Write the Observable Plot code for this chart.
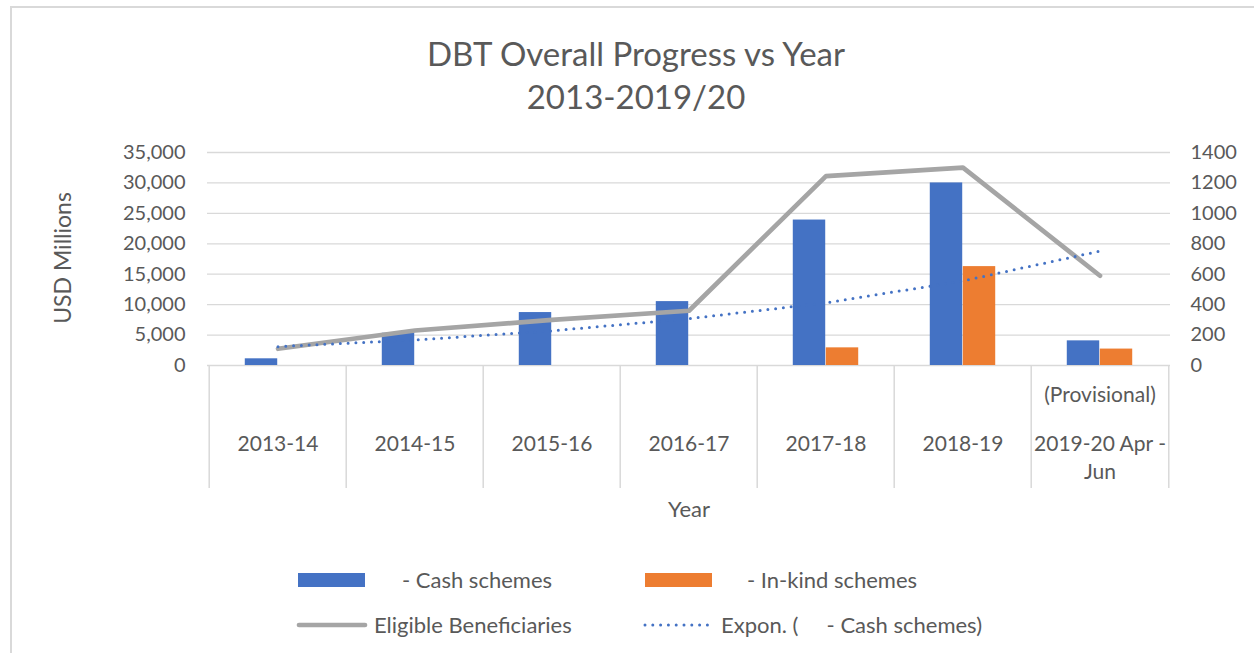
<!DOCTYPE html>
<html>
<head>
<meta charset="utf-8">
<script src="https://cdn.jsdelivr.net/npm/d3@7"></script>
<script src="https://cdn.jsdelivr.net/npm/@observablehq/plot@0.6"></script>
<style>
  html, body { margin: 0; padding: 0; background: #fff; }
  body { width: 1254px; height: 653px; position: relative; overflow: hidden; font-family: Lato, "Open Sans", sans-serif; color: #595959; }
  .abs { position: absolute; white-space: pre; line-height: 1; }
  .c { transform: translate(-50%, -50%); }
  .l { transform: translateY(-50%); }
  #frame { position: absolute; left: 10px; top: 6px; width: 1400px; height: 800px; border: 2px solid #D9D9D9; box-sizing: border-box; }
  #plot1 { position: absolute; left: 0; top: 132px; }
  #plot2 { position: absolute; left: 0; top: 365px; }
  svg { overflow: visible; }
</style>
</head>
<body>
<div id="frame"></div>
<div class="abs c" style="left:636px; top:53px; font-size:33px;">DBT Overall Progress vs Year</div>
<div class="abs c" style="left:636px; top:96px; font-size:33px;">2013-2019/20</div>
<div class="abs c" style="left:62px; top:258px; font-size:23px; transform: translate(-50%,-50%) rotate(-90deg);">USD Millions</div>
<div id="plot1"></div>
<div id="plot2"></div>
<div id="legend"></div>
<script>
// ---- data ----
const categories = ["2013-14", "2014-15", "2015-16", "2016-17", "2017-18", "2018-19", "2019-20"];
const categoryLabels = ["2013-14", "2014-15", "2015-16", "2016-17", "2017-18", "2018-19", "2019-20 Apr -\nJun"];
const categoryNotes = ["", "", "", "", "", "", "(Provisional)"];
const cashSchemes = [1100, 5300, 8700, 10500, 23900, 30000, 4050];          // USD millions
const inKindSchemes = [null, null, null, null, 2900, 16250, 2700];           // USD millions
const eligibleBeneficiaries = [110, 230, 300, 360, 1245, 1300, 590];         // right axis
const exponCashTrend = [3100, 4200, 5700, 7700, 10300, 13900, 18800];       // Expon. trendline of cash schemes
const leftTicks = [0, 5000, 10000, 15000, 20000, 25000, 30000, 35000];
const rightTicks = [0, 200, 400, 600, 800, 1000, 1200, 1400];
const legendLabels = ["- Cash schemes", "- In-kind schemes", "Eligible Beneficiaries", "Expon. (     - Cash schemes)"];

const blue = "#4472C4", orange = "#ED7D31", gray = "#A5A5A5", grid = "#D9D9D9", textColor = "#595959";
const leftMax = leftTicks[leftTicks.length - 1];
const rightMax = rightTicks[rightTicks.length - 1];
const ratio = leftMax / rightMax;

const rows = categories.map((c, i) => ({
  cat: c, cash: cashSchemes[i], inKind: inKindSchemes[i],
  ben: eligibleBeneficiaries[i], trend: exponCashTrend[i],
  label: categoryLabels[i], note: categoryNotes[i]
}));

const W = 1254, ML = 207, MR = 84;
const bw = (W - ML - MR) / categories.length;
const barW = 33;
const baseStyle = {fontFamily: "Lato, 'Open Sans', sans-serif", fontSize: "20px", color: textColor, background: "transparent", overflow: "visible"};

const plot1 = Plot.plot({
  width: W, height: 245, marginLeft: ML, marginRight: MR, marginTop: 20, marginBottom: 12,
  style: baseStyle,
  x: {type: "band", domain: categories, padding: 0, axis: null},
  y: {domain: [0, leftMax]},
  marks: [
    Plot.ruleY(leftTicks, {stroke: grid, strokeWidth: 1.3}),
    Plot.barY(rows, {x: "cat", y: "cash", fill: blue, insetLeft: bw / 2 - barW, insetRight: bw / 2}),
    Plot.barY(rows.filter(d => d.inKind != null), {x: "cat", y: "inKind", fill: orange, insetLeft: bw / 2, insetRight: bw / 2 - barW}),
    Plot.line(rows, {x: "cat", y: d => d.ben * ratio, stroke: gray, strokeWidth: 4.7, strokeLinecap: "round", strokeLinejoin: "round"}),
    Plot.line(rows, {x: "cat", y: "trend", stroke: blue, strokeWidth: 3, strokeDasharray: "0,7.8", strokeLinecap: "round"}),
    Plot.axisY({anchor: "left", ticks: leftTicks, tickFormat: d3.format(","), tickSize: 0, tickPadding: 22, label: null}),
    Plot.axisY({anchor: "right", ticks: leftTicks, tickFormat: d => String(Math.round(d / ratio)), tickSize: 0, tickPadding: 20, label: null})
  ]
});
document.getElementById("plot1").append(plot1);

const plot2 = Plot.plot({
  width: W, height: 165, marginLeft: ML, marginRight: MR, marginTop: 0, marginBottom: 42,
  style: {...baseStyle, fontSize: "21px"},
  x: {type: "band", domain: categories, padding: 0, axis: null},
  marks: [
    Plot.ruleX(categories, {x: d => d, dx: -bw / 2, stroke: grid, strokeWidth: 1.5}),
    Plot.ruleX(categories.slice(-1), {x: d => d, dx: bw / 2, stroke: grid, strokeWidth: 1.5}),
    Plot.text(rows, {x: "cat", text: "label", frameAnchor: "top", lineAnchor: "top", dy: 66, lineHeight: 1.33, fill: textColor}),
    Plot.text(rows, {x: "cat", text: "note", frameAnchor: "top", dy: 21.5, fill: textColor}),
    Plot.text(["Year"], {frameAnchor: "bottom", dy: 28, fontSize: 22, fill: textColor})
  ]
});
document.getElementById("plot2").append(plot2);

// ---- legend ----
const legend = document.getElementById("legend");
function add(html) { legend.insertAdjacentHTML("beforeend", html); }
add(`<div style="position:absolute;left:298px;top:573px;width:67px;height:14px;background:${blue}"></div>`);
add(`<div class="abs l" style="left:402px;top:580px;font-size:22px;">${legendLabels[0]}</div>`);
add(`<div style="position:absolute;left:645px;top:573px;width:67px;height:14px;background:${orange}"></div>`);
add(`<div class="abs l" style="left:747px;top:580px;font-size:22px;">${legendLabels[1]}</div>`);
add(`<svg style="position:absolute;left:0;top:0;width:1254px;height:653px;pointer-events:none">
  <line x1="299" y1="625" x2="365" y2="625" stroke="${gray}" stroke-width="4.7" stroke-linecap="round"/>
  <line x1="645" y1="625" x2="712" y2="625" stroke="${blue}" stroke-width="3" stroke-dasharray="0,7.8" stroke-linecap="round"/>
</svg>`);
add(`<div class="abs l" style="left:374px;top:625px;font-size:22px;">${legendLabels[2]}</div>`);
add(`<div class="abs l" style="left:721px;top:625px;font-size:22px;">${legendLabels[3]}</div>`);
</script>
</body>
</html>
